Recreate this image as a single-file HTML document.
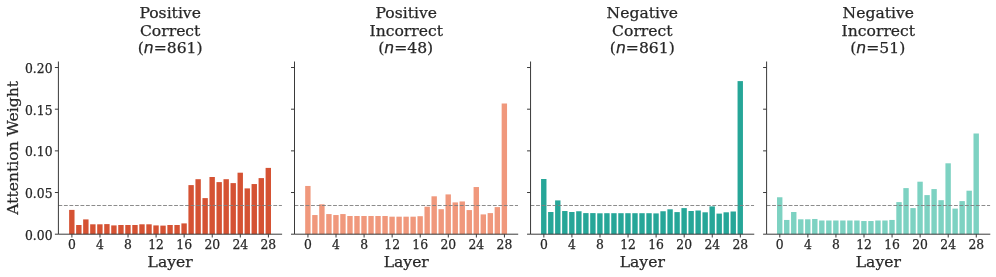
<!DOCTYPE html>
<html lang="en">
<head>
<meta charset="utf-8">
<title>Attention Weight by Layer</title>
<style>
html,body{margin:0;padding:0;background:#fff;}
body{width:996px;height:277px;overflow:hidden;}
svg{display:block;will-change:transform;}
text{font-family:"DejaVu Serif","Liberation Serif",serif;fill:#272727;stroke:#272727;stroke-width:0.25px;}
.t{font-size:15.6px;text-anchor:middle;}
.k{font-size:12.35px;}
.n{font-family:"DejaVu Sans","Liberation Sans",sans-serif;font-style:italic;}
</style>
</head>
<body>
<svg width="996" height="277" viewBox="0 0 996 277">
<rect width="996" height="277" fill="#ffffff"/>
<g>
<rect x="69.12" y="209.90" width="5.40" height="24.30" fill="#D55233"/>
<rect x="76.14" y="225.00" width="5.40" height="9.20" fill="#D55233"/>
<rect x="83.15" y="219.40" width="5.40" height="14.80" fill="#D55233"/>
<rect x="90.17" y="224.30" width="5.40" height="9.90" fill="#D55233"/>
<rect x="97.19" y="224.30" width="5.40" height="9.90" fill="#D55233"/>
<rect x="104.21" y="224.10" width="5.40" height="10.10" fill="#D55233"/>
<rect x="111.22" y="225.40" width="5.40" height="8.80" fill="#D55233"/>
<rect x="118.24" y="225.00" width="5.40" height="9.20" fill="#D55233"/>
<rect x="125.26" y="225.00" width="5.40" height="9.20" fill="#D55233"/>
<rect x="132.27" y="225.00" width="5.40" height="9.20" fill="#D55233"/>
<rect x="139.29" y="224.30" width="5.40" height="9.90" fill="#D55233"/>
<rect x="146.31" y="224.30" width="5.40" height="9.90" fill="#D55233"/>
<rect x="153.32" y="225.40" width="5.40" height="8.80" fill="#D55233"/>
<rect x="160.34" y="225.60" width="5.40" height="8.60" fill="#D55233"/>
<rect x="167.36" y="225.00" width="5.40" height="9.20" fill="#D55233"/>
<rect x="174.38" y="225.00" width="5.40" height="9.20" fill="#D55233"/>
<rect x="181.39" y="223.40" width="5.40" height="10.80" fill="#D55233"/>
<rect x="188.41" y="185.10" width="5.40" height="49.10" fill="#D55233"/>
<rect x="195.43" y="179.20" width="5.40" height="55.00" fill="#D55233"/>
<rect x="202.44" y="198.10" width="5.40" height="36.10" fill="#D55233"/>
<rect x="209.46" y="177.00" width="5.40" height="57.20" fill="#D55233"/>
<rect x="216.48" y="182.10" width="5.40" height="52.10" fill="#D55233"/>
<rect x="223.49" y="179.20" width="5.40" height="55.00" fill="#D55233"/>
<rect x="230.51" y="183.10" width="5.40" height="51.10" fill="#D55233"/>
<rect x="237.53" y="172.70" width="5.40" height="61.50" fill="#D55233"/>
<rect x="244.55" y="188.40" width="5.40" height="45.80" fill="#D55233"/>
<rect x="251.56" y="184.05" width="5.40" height="50.15" fill="#D55233"/>
<rect x="258.58" y="178.10" width="5.40" height="56.10" fill="#D55233"/>
<rect x="265.60" y="167.90" width="5.40" height="66.30" fill="#D55233"/>
<line x1="58.40" y1="205.6" x2="281.90" y2="205.6" stroke="#808080" stroke-width="1.04" stroke-dasharray="3.85 1.66" opacity="0.9"/>
<path d="M58.40 62.00V234.20H281.60" fill="none" stroke="#3a3a3a" stroke-width="1" stroke-linecap="square"/>
<path d="M58.40 234.20h-3.5M58.40 192.53h-3.5M58.40 150.86h-3.5M58.40 109.19h-3.5M58.40 67.52h-3.5M71.90 234.20v3.3M99.97 234.20v3.3M128.04 234.20v3.3M156.10 234.20v3.3M184.17 234.20v3.3M212.24 234.20v3.3M240.31 234.20v3.3M268.38 234.20v3.3" fill="none" stroke="#3a3a3a" stroke-width="1"/>
<text class="k" x="71.90" y="249.35" text-anchor="middle">0</text>
<text class="k" x="99.97" y="249.35" text-anchor="middle">4</text>
<text class="k" x="128.04" y="249.35" text-anchor="middle">8</text>
<text class="k" x="156.10" y="249.35" text-anchor="middle">12</text>
<text class="k" x="184.17" y="249.35" text-anchor="middle">16</text>
<text class="k" x="212.24" y="249.35" text-anchor="middle">20</text>
<text class="k" x="240.31" y="249.35" text-anchor="middle">24</text>
<text class="k" x="268.38" y="249.35" text-anchor="middle">28</text>
<text class="k" x="52.5" y="239.60" text-anchor="end">0.00</text>
<text class="k" x="52.5" y="197.93" text-anchor="end">0.05</text>
<text class="k" x="52.5" y="156.26" text-anchor="end">0.10</text>
<text class="k" x="52.5" y="114.59" text-anchor="end">0.15</text>
<text class="k" x="52.5" y="72.92" text-anchor="end">0.20</text>
<text class="t" transform="translate(17.9 147.9) rotate(-90)">Attention Weight</text>
<text class="t" x="170.15" y="18.1">Positive</text>
<text class="t" x="170.15" y="35.9">Correct</text>
<text class="t" x="170.15" y="53.0">(<tspan class="n">n</tspan>=861)</text>
<text class="t" x="170.15" y="267.45">Layer</text>
</g>
<g>
<rect x="305.17" y="185.96" width="5.40" height="48.24" fill="#F0987C"/>
<rect x="312.19" y="215.04" width="5.40" height="19.16" fill="#F0987C"/>
<rect x="319.20" y="204.30" width="5.40" height="29.90" fill="#F0987C"/>
<rect x="326.22" y="214.07" width="5.40" height="20.13" fill="#F0987C"/>
<rect x="333.24" y="215.04" width="5.40" height="19.16" fill="#F0987C"/>
<rect x="340.25" y="214.07" width="5.40" height="20.13" fill="#F0987C"/>
<rect x="347.27" y="216.00" width="5.40" height="18.20" fill="#F0987C"/>
<rect x="354.29" y="216.00" width="5.40" height="18.20" fill="#F0987C"/>
<rect x="361.31" y="216.00" width="5.40" height="18.20" fill="#F0987C"/>
<rect x="368.32" y="216.00" width="5.40" height="18.20" fill="#F0987C"/>
<rect x="375.34" y="216.00" width="5.40" height="18.20" fill="#F0987C"/>
<rect x="382.36" y="216.00" width="5.40" height="18.20" fill="#F0987C"/>
<rect x="389.37" y="216.67" width="5.40" height="17.53" fill="#F0987C"/>
<rect x="396.39" y="216.67" width="5.40" height="17.53" fill="#F0987C"/>
<rect x="403.41" y="216.67" width="5.40" height="17.53" fill="#F0987C"/>
<rect x="410.43" y="216.67" width="5.40" height="17.53" fill="#F0987C"/>
<rect x="417.44" y="216.20" width="5.40" height="18.00" fill="#F0987C"/>
<rect x="424.46" y="206.70" width="5.40" height="27.50" fill="#F0987C"/>
<rect x="431.48" y="196.30" width="5.40" height="37.90" fill="#F0987C"/>
<rect x="438.49" y="209.20" width="5.40" height="25.00" fill="#F0987C"/>
<rect x="445.51" y="194.40" width="5.40" height="39.80" fill="#F0987C"/>
<rect x="452.53" y="202.40" width="5.40" height="31.80" fill="#F0987C"/>
<rect x="459.54" y="201.45" width="5.40" height="32.75" fill="#F0987C"/>
<rect x="466.56" y="210.08" width="5.40" height="24.12" fill="#F0987C"/>
<rect x="473.58" y="187.04" width="5.40" height="47.16" fill="#F0987C"/>
<rect x="480.60" y="214.40" width="5.40" height="19.80" fill="#F0987C"/>
<rect x="487.61" y="213.10" width="5.40" height="21.10" fill="#F0987C"/>
<rect x="494.63" y="207.10" width="5.40" height="27.10" fill="#F0987C"/>
<rect x="501.65" y="103.50" width="5.40" height="130.70" fill="#F0987C"/>
<line x1="294.50" y1="205.6" x2="518.00" y2="205.6" stroke="#808080" stroke-width="1.04" stroke-dasharray="3.85 1.66" opacity="0.9"/>
<path d="M294.50 62.00V234.20H517.70" fill="none" stroke="#3a3a3a" stroke-width="1" stroke-linecap="square"/>
<path d="M294.50 234.20h-3.5M294.50 192.53h-3.5M294.50 150.86h-3.5M294.50 109.19h-3.5M294.50 67.52h-3.5M307.95 234.20v3.3M336.02 234.20v3.3M364.09 234.20v3.3M392.15 234.20v3.3M420.22 234.20v3.3M448.29 234.20v3.3M476.36 234.20v3.3M504.43 234.20v3.3" fill="none" stroke="#3a3a3a" stroke-width="1"/>
<text class="k" x="307.95" y="249.35" text-anchor="middle">0</text>
<text class="k" x="336.02" y="249.35" text-anchor="middle">4</text>
<text class="k" x="364.09" y="249.35" text-anchor="middle">8</text>
<text class="k" x="392.15" y="249.35" text-anchor="middle">12</text>
<text class="k" x="420.22" y="249.35" text-anchor="middle">16</text>
<text class="k" x="448.29" y="249.35" text-anchor="middle">20</text>
<text class="k" x="476.36" y="249.35" text-anchor="middle">24</text>
<text class="k" x="504.43" y="249.35" text-anchor="middle">28</text>
<text class="t" x="406.25" y="18.1">Positive</text>
<text class="t" x="406.25" y="35.9">Incorrect</text>
<text class="t" x="405.65" y="53.0">(<tspan class="n">n</tspan>=48)</text>
<text class="t" x="406.25" y="267.45">Layer</text>
</g>
<g>
<rect x="541.07" y="179.00" width="5.40" height="55.20" fill="#26A698"/>
<rect x="548.09" y="212.00" width="5.40" height="22.20" fill="#26A698"/>
<rect x="555.10" y="200.40" width="5.40" height="33.80" fill="#26A698"/>
<rect x="562.12" y="211.03" width="5.40" height="23.17" fill="#26A698"/>
<rect x="569.14" y="212.00" width="5.40" height="22.20" fill="#26A698"/>
<rect x="576.16" y="211.25" width="5.40" height="22.95" fill="#26A698"/>
<rect x="583.17" y="213.10" width="5.40" height="21.10" fill="#26A698"/>
<rect x="590.19" y="213.10" width="5.40" height="21.10" fill="#26A698"/>
<rect x="597.21" y="213.30" width="5.40" height="20.90" fill="#26A698"/>
<rect x="604.22" y="213.20" width="5.40" height="21.00" fill="#26A698"/>
<rect x="611.24" y="213.20" width="5.40" height="21.00" fill="#26A698"/>
<rect x="618.26" y="213.20" width="5.40" height="21.00" fill="#26A698"/>
<rect x="625.27" y="213.20" width="5.40" height="21.00" fill="#26A698"/>
<rect x="632.29" y="213.20" width="5.40" height="21.00" fill="#26A698"/>
<rect x="639.31" y="213.20" width="5.40" height="21.00" fill="#26A698"/>
<rect x="646.33" y="213.20" width="5.40" height="21.00" fill="#26A698"/>
<rect x="653.34" y="213.40" width="5.40" height="20.80" fill="#26A698"/>
<rect x="660.36" y="211.25" width="5.40" height="22.95" fill="#26A698"/>
<rect x="667.38" y="209.30" width="5.40" height="24.90" fill="#26A698"/>
<rect x="674.39" y="212.10" width="5.40" height="22.10" fill="#26A698"/>
<rect x="681.41" y="208.10" width="5.40" height="26.10" fill="#26A698"/>
<rect x="688.43" y="211.00" width="5.40" height="23.20" fill="#26A698"/>
<rect x="695.44" y="210.50" width="5.40" height="23.70" fill="#26A698"/>
<rect x="702.46" y="212.30" width="5.40" height="21.90" fill="#26A698"/>
<rect x="709.48" y="206.40" width="5.40" height="27.80" fill="#26A698"/>
<rect x="716.50" y="213.60" width="5.40" height="20.60" fill="#26A698"/>
<rect x="723.51" y="212.30" width="5.40" height="21.90" fill="#26A698"/>
<rect x="730.53" y="211.50" width="5.40" height="22.70" fill="#26A698"/>
<rect x="737.55" y="81.10" width="5.40" height="153.10" fill="#26A698"/>
<line x1="530.55" y1="205.6" x2="754.05" y2="205.6" stroke="#808080" stroke-width="1.04" stroke-dasharray="3.85 1.66" opacity="0.9"/>
<path d="M530.55 62.00V234.20H753.75" fill="none" stroke="#3a3a3a" stroke-width="1" stroke-linecap="square"/>
<path d="M530.55 234.20h-3.5M530.55 192.53h-3.5M530.55 150.86h-3.5M530.55 109.19h-3.5M530.55 67.52h-3.5M543.85 234.20v3.3M571.92 234.20v3.3M599.99 234.20v3.3M628.05 234.20v3.3M656.12 234.20v3.3M684.19 234.20v3.3M712.26 234.20v3.3M740.33 234.20v3.3" fill="none" stroke="#3a3a3a" stroke-width="1"/>
<text class="k" x="543.85" y="249.35" text-anchor="middle">0</text>
<text class="k" x="571.92" y="249.35" text-anchor="middle">4</text>
<text class="k" x="599.99" y="249.35" text-anchor="middle">8</text>
<text class="k" x="628.05" y="249.35" text-anchor="middle">12</text>
<text class="k" x="656.12" y="249.35" text-anchor="middle">16</text>
<text class="k" x="684.19" y="249.35" text-anchor="middle">20</text>
<text class="k" x="712.26" y="249.35" text-anchor="middle">24</text>
<text class="k" x="740.33" y="249.35" text-anchor="middle">28</text>
<text class="t" x="642.30" y="18.1">Negative</text>
<text class="t" x="642.30" y="35.9">Correct</text>
<text class="t" x="642.30" y="53.0">(<tspan class="n">n</tspan>=861)</text>
<text class="t" x="642.30" y="267.45">Layer</text>
</g>
<g>
<rect x="777.02" y="197.26" width="5.40" height="36.94" fill="#7DD2C2"/>
<rect x="784.04" y="219.95" width="5.40" height="14.25" fill="#7DD2C2"/>
<rect x="791.05" y="212.00" width="5.40" height="22.20" fill="#7DD2C2"/>
<rect x="798.07" y="219.30" width="5.40" height="14.90" fill="#7DD2C2"/>
<rect x="805.09" y="219.30" width="5.40" height="14.90" fill="#7DD2C2"/>
<rect x="812.11" y="218.98" width="5.40" height="15.22" fill="#7DD2C2"/>
<rect x="819.12" y="220.50" width="5.40" height="13.70" fill="#7DD2C2"/>
<rect x="826.14" y="220.50" width="5.40" height="13.70" fill="#7DD2C2"/>
<rect x="833.16" y="220.50" width="5.40" height="13.70" fill="#7DD2C2"/>
<rect x="840.17" y="220.50" width="5.40" height="13.70" fill="#7DD2C2"/>
<rect x="847.19" y="220.50" width="5.40" height="13.70" fill="#7DD2C2"/>
<rect x="854.21" y="220.50" width="5.40" height="13.70" fill="#7DD2C2"/>
<rect x="861.22" y="221.03" width="5.40" height="13.17" fill="#7DD2C2"/>
<rect x="868.24" y="221.03" width="5.40" height="13.17" fill="#7DD2C2"/>
<rect x="875.26" y="220.50" width="5.40" height="13.70" fill="#7DD2C2"/>
<rect x="882.27" y="220.50" width="5.40" height="13.70" fill="#7DD2C2"/>
<rect x="889.29" y="219.95" width="5.40" height="14.25" fill="#7DD2C2"/>
<rect x="896.31" y="202.10" width="5.40" height="32.10" fill="#7DD2C2"/>
<rect x="903.33" y="188.10" width="5.40" height="46.10" fill="#7DD2C2"/>
<rect x="910.34" y="208.10" width="5.40" height="26.10" fill="#7DD2C2"/>
<rect x="917.36" y="181.70" width="5.40" height="52.50" fill="#7DD2C2"/>
<rect x="924.38" y="195.10" width="5.40" height="39.10" fill="#7DD2C2"/>
<rect x="931.39" y="189.08" width="5.40" height="45.12" fill="#7DD2C2"/>
<rect x="938.41" y="200.20" width="5.40" height="34.00" fill="#7DD2C2"/>
<rect x="945.43" y="163.30" width="5.40" height="70.90" fill="#7DD2C2"/>
<rect x="952.44" y="208.60" width="5.40" height="25.60" fill="#7DD2C2"/>
<rect x="959.46" y="201.10" width="5.40" height="33.10" fill="#7DD2C2"/>
<rect x="966.48" y="190.70" width="5.40" height="43.50" fill="#7DD2C2"/>
<rect x="973.50" y="133.50" width="5.40" height="100.70" fill="#7DD2C2"/>
<line x1="766.60" y1="205.6" x2="990.10" y2="205.6" stroke="#808080" stroke-width="1.04" stroke-dasharray="3.85 1.66" opacity="0.9"/>
<path d="M766.60 62.00V234.20H989.80" fill="none" stroke="#3a3a3a" stroke-width="1" stroke-linecap="square"/>
<path d="M766.60 234.20h-3.5M766.60 192.53h-3.5M766.60 150.86h-3.5M766.60 109.19h-3.5M766.60 67.52h-3.5M779.80 234.20v3.3M807.87 234.20v3.3M835.94 234.20v3.3M864.00 234.20v3.3M892.07 234.20v3.3M920.14 234.20v3.3M948.21 234.20v3.3M976.28 234.20v3.3" fill="none" stroke="#3a3a3a" stroke-width="1"/>
<text class="k" x="779.80" y="249.35" text-anchor="middle">0</text>
<text class="k" x="807.87" y="249.35" text-anchor="middle">4</text>
<text class="k" x="835.94" y="249.35" text-anchor="middle">8</text>
<text class="k" x="864.00" y="249.35" text-anchor="middle">12</text>
<text class="k" x="892.07" y="249.35" text-anchor="middle">16</text>
<text class="k" x="920.14" y="249.35" text-anchor="middle">20</text>
<text class="k" x="948.21" y="249.35" text-anchor="middle">24</text>
<text class="k" x="976.28" y="249.35" text-anchor="middle">28</text>
<text class="t" x="878.35" y="18.1">Negative</text>
<text class="t" x="878.35" y="35.9">Incorrect</text>
<text class="t" x="877.75" y="53.0">(<tspan class="n">n</tspan>=51)</text>
<text class="t" x="878.35" y="267.45">Layer</text>
</g>
</svg>
</body>
</html>
